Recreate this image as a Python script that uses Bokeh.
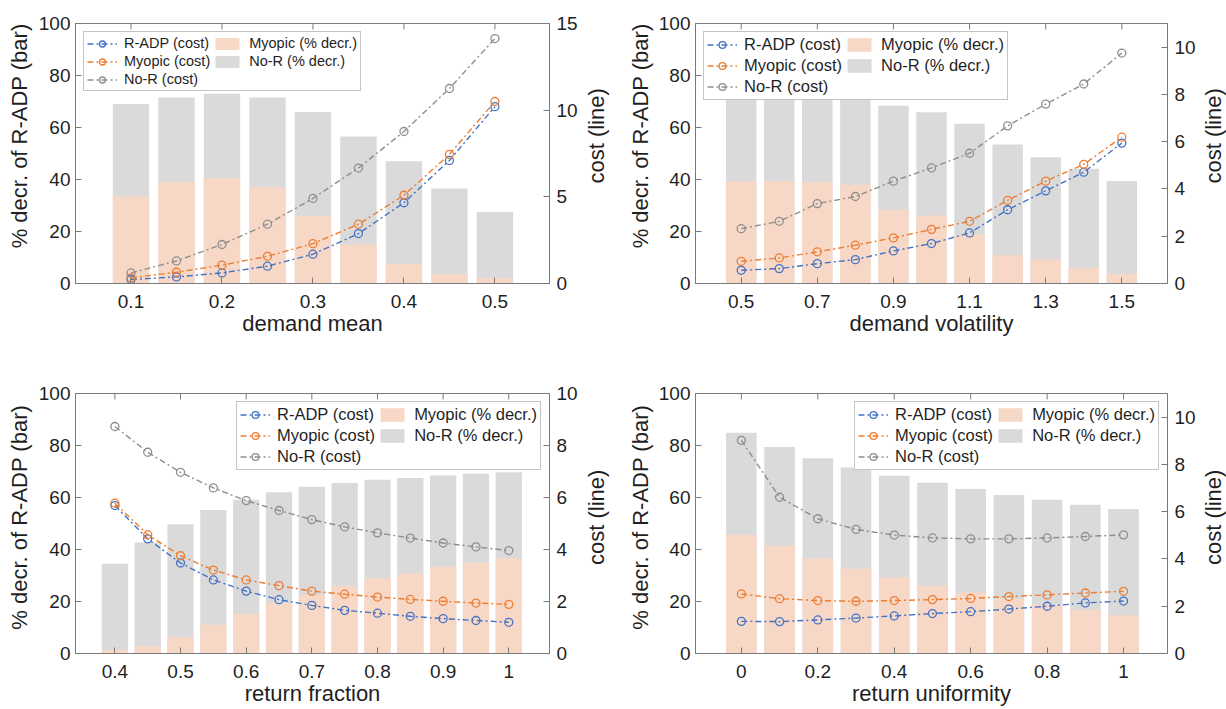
import math
from bokeh.plotting import figure
from bokeh.models import Range1d, LinearAxis, FixedTicker, Legend, LegendItem
from bokeh.core.properties import value
from bokeh.layouts import column, row
from bokeh.embed import file_html
from bokeh.resources import INLINE

# ---------------- data ----------------
# Panel A: demand mean
a_x = [0.1, 0.15, 0.2, 0.25, 0.3, 0.35, 0.4, 0.45, 0.5]
a_nor_bar = [69, 71.5, 73, 71.5, 66, 56.5, 47, 36.5, 27.5]
a_myo_bar = [33.5, 39, 40.5, 37, 26, 15, 7.5, 3.5, 2]
a_radp_cost = [0.23, 0.38, 0.61, 1.0, 1.69, 2.88, 4.66, 7.1, 10.2]
a_myo_cost = [0.33, 0.65, 1.06, 1.57, 2.3, 3.42, 5.09, 7.45, 10.5]
a_nor_cost = [0.61, 1.3, 2.25, 3.42, 4.91, 6.66, 8.77, 11.25, 14.13]
a_xticks = [0.1, 0.2, 0.3, 0.4, 0.5]
a_xlabels = ["0.1", "0.2", "0.3", "0.4", "0.5"]
a_cost_ticks = [0, 5, 10, 15]

# Panel B: demand volatility
b_x = [0.5, 0.6, 0.7, 0.8, 0.9, 1.0, 1.1, 1.2, 1.3, 1.4, 1.5]
b_nor_bar = [75.5, 75, 74.5, 74, 68.4, 65.9, 61.4, 53.5, 48.6, 44.1, 39.4]
b_myo_bar = [39.3, 39.4, 39, 38, 28.4, 26.2, 18.8, 10.9, 9.2, 6.1, 3.7]
b_radp_cost = [0.56, 0.63, 0.84, 1.01, 1.38, 1.69, 2.14, 3.12, 3.92, 4.71, 5.94]
b_myo_cost = [0.94, 1.08, 1.34, 1.62, 1.93, 2.29, 2.63, 3.52, 4.33, 5.04, 6.19]
b_nor_cost = [2.32, 2.63, 3.38, 3.68, 4.33, 4.89, 5.51, 6.67, 7.59, 8.44, 9.75]
b_xticks = [0.5, 0.7, 0.9, 1.1, 1.3, 1.5]
b_xlabels = ["0.5", "0.7", "0.9", "1.1", "1.3", "1.5"]
b_cost_ticks = [0, 2, 4, 6, 8, 10]

# Panel C: return fraction
c_x = [0.4, 0.45, 0.5, 0.55, 0.6, 0.65, 0.7, 0.75, 0.8, 0.85, 0.9, 0.95, 1.0]
c_nor_bar = [34.5, 42.7, 49.7, 55.2, 59.1, 62, 64.1, 65.6, 66.8, 67.5, 68.5, 69.1, 69.7]
c_myo_bar = [1.3, 2.7, 6.3, 11.1, 15.2, 19.4, 22.5, 26.1, 28.9, 30.9, 33.4, 34.9, 36.6]
c_radp_cost = [5.69, 4.41, 3.48, 2.83, 2.40, 2.07, 1.85, 1.66, 1.55, 1.43, 1.34, 1.27, 1.20]
c_myo_cost = [5.78, 4.57, 3.76, 3.21, 2.83, 2.61, 2.40, 2.28, 2.17, 2.08, 2.01, 1.94, 1.89]
c_nor_cost = [8.73, 7.74, 6.97, 6.37, 5.88, 5.50, 5.15, 4.87, 4.64, 4.44, 4.25, 4.10, 3.96]
c_xticks = [0.4, 0.5, 0.6, 0.7, 0.8, 0.9, 1.0]
c_xlabels = ["0.4", "0.5", "0.6", "0.7", "0.8", "0.9", "1"]
c_cost_ticks = [0, 2, 4, 6, 8, 10]

# Panel D: return uniformity
d_x = [0.0, 0.1, 0.2, 0.3, 0.4, 0.5, 0.6, 0.7, 0.8, 0.9, 1.0]
d_nor_bar = [84.9, 79.4, 75.1, 71.5, 68.4, 65.7, 63.3, 61, 59.1, 57.2, 55.6]
d_myo_bar = [45.7, 41.4, 36.6, 32.6, 29.2, 26.1, 23.5, 21, 18.8, 16.8, 14.7]
d_radp_cost = [1.36, 1.35, 1.42, 1.50, 1.59, 1.69, 1.77, 1.88, 2.0, 2.14, 2.22]
d_myo_cost = [2.52, 2.32, 2.24, 2.21, 2.24, 2.28, 2.33, 2.41, 2.48, 2.56, 2.63]
d_nor_cost = [9.02, 6.61, 5.70, 5.25, 5.01, 4.89, 4.85, 4.85, 4.89, 4.95, 5.02]
d_xticks = [0.0, 0.2, 0.4, 0.6, 0.8, 1.0]
d_xlabels = ["0", "0.2", "0.4", "0.6", "0.8", "1"]
d_cost_ticks = [0, 2, 4, 6, 8, 10]

pct_ticks = [0, 20, 40, 60, 80, 100]
left_title = "% decr. of R-ADP (bar)"
right_title = "cost (line)"

# ---------------- style ----------------
FONT = "Liberation Sans"
C_BLUE = "#4472C4"
C_ORANGE = "#ED7D31"
C_GRAY = "#8E8E8E"
C_PEACH = "#F7D8C7"
C_BARGRAY = "#DADADA"
AX_COL = "#7a7a7a"
TXT_COL = "#1f1f1f"


def style_axis(ax, standoff, label_standoff=0):
    ax.axis_line_color = AX_COL
    ax.major_tick_line_color = AX_COL
    ax.major_tick_in = 6
    ax.major_tick_out = 0
    ax.minor_tick_line_color = None
    ax.major_label_text_font = FONT
    ax.major_label_text_font_size = "19px"
    ax.major_label_text_color = TXT_COL
    ax.major_label_standoff = standoff
    ax.axis_label_text_font = FONT
    ax.axis_label_text_font_size = "22px"
    ax.axis_label_text_font_style = "normal"
    ax.axis_label_text_color = TXT_COL
    ax.axis_label_standoff = label_standoff


def make_panel(x, nor_bar, myo_bar, radp, myo, nor, xlabel, xticks, xlabels,
               xr, bar_w, cost_max, cost_ticks, legend_loc, legend_font,
               width, height, bl, br, bt, bb):
    p = figure(width=width, height=height, output_backend="svg",
               toolbar_location=None, x_range=Range1d(*xr),
               y_range=Range1d(0, 100),
               min_border_left=bl, min_border_right=br,
               min_border_top=bt, min_border_bottom=bb)
    p.xgrid.grid_line_color = None
    p.ygrid.grid_line_color = None
    p.outline_line_color = AX_COL
    p.outline_line_width = 1
    p.background_fill_color = "white"
    p.border_fill_color = "white"

    p.extra_y_ranges = {"cost": Range1d(0, cost_max)}

    b_nor = p.vbar(x=x, top=nor_bar, width=bar_w, bottom=0,
                   fill_color=C_BARGRAY, line_color=None)
    b_myo = p.vbar(x=x, top=myo_bar, width=bar_w, bottom=0,
                   fill_color=C_PEACH, line_color=None)

    # inward tick marks along the top edge of the box
    p.segment(x0=xticks, y0=[100] * len(xticks), x1=xticks,
              y1=[97.7] * len(xticks), line_color=AX_COL, line_width=1)

    items_line = []
    for vals, col, lab in [(radp, C_BLUE, "R-ADP (cost)"),
                           (myo, C_ORANGE, "Myopic (cost)"),
                           (nor, C_GRAY, "No-R (cost)")]:
        lr = p.line(x, vals, y_range_name="cost", line_color=col,
                    line_width=1.4, line_dash="6 3 2 3")
        sr = p.scatter(x, vals, y_range_name="cost", marker="circle", size=8,
                       fill_color=None, line_color=col, line_width=1.3)
        items_line.append(LegendItem(label=lab, renderers=[lr, sr]))

    # axes
    p.xaxis.ticker = FixedTicker(ticks=xticks)
    p.xaxis.major_label_overrides = {t: l for t, l in zip(xticks, xlabels)}
    p.xaxis.axis_label = xlabel
    for ax in p.xaxis:
        style_axis(ax, 11, 0)
    p.yaxis.ticker = FixedTicker(ticks=pct_ticks)
    for ax in p.yaxis:
        style_axis(ax, 5)

    right = LinearAxis(y_range_name="cost", ticker=FixedTicker(ticks=cost_ticks))
    style_axis(right, 7)
    p.add_layout(right, "right")

    items = items_line + [LegendItem(label="Myopic (% decr.)", renderers=[b_myo]),
                          LegendItem(label="No-R (% decr.)", renderers=[b_nor])]
    lg = Legend(items=items, location=legend_loc, orientation="vertical",
                nrows=3, ncols=2)
    lg.label_text_font = FONT
    lg.label_text_font_size = legend_font
    lg.label_text_color = TXT_COL
    lg.border_line_color = "#8a8a8a"
    lg.border_line_width = 1
    lg.background_fill_color = "white"
    lg.background_fill_alpha = 1
    lg.glyph_width = 30
    small = legend_font == "14.5px"
    lg.glyph_height = 15 if small else 17
    lg.label_height = 15 if small else 17
    lg.label_standoff = 7
    lg.spacing = 2
    lg.padding = 3
    lg.margin = 8
    lg.item_background_fill_alpha = 0
    p.add_layout(lg)
    return p


def label_strip(width, height, xs, ys, texts):
    """A narrow, axis-less strip that carries rotated y-axis titles."""
    s = figure(width=width, height=height, output_backend="svg",
               toolbar_location=None, x_range=Range1d(0, width),
               y_range=Range1d(height, 0), min_border=0,
               x_axis_location=None, y_axis_location=None)
    s.xgrid.grid_line_color = None
    s.ygrid.grid_line_color = None
    s.outline_line_color = None
    s.background_fill_color = "white"
    s.border_fill_color = "white"
    s.text(x=xs, y=ys, text=texts, angle=math.pi / 2,
           text_align="center", text_baseline="middle",
           text_font=value(FONT), text_font_size=value("22px"),
           text_color=TXT_COL)
    return s


H1, H2 = 354, 355
# row 1
p1 = make_panel(a_x, a_nor_bar, a_myo_bar, a_radp_cost, a_myo_cost, a_nor_cost,
                "demand mean", a_xticks, a_xlabels, (0.039, 0.56), 0.04, 15,
                a_cost_ticks, "top_left", "14.5px", 545, H1, 39, 31, 23, 71)
p2 = make_panel(b_x, b_nor_bar, b_myo_bar, b_radp_cost, b_myo_cost, b_nor_cost,
                "demand volatility", b_xticks, b_xlabels, (0.38, 1.62), 0.08, 11,
                b_cost_ticks, "top_left", "16.5px", 543, H1, 40, 28, 23, 71)
s1a = label_strip(35, H1, [18.5], [153], [left_title])
s1b = label_strip(75, H1, [16, 59.5], [153, 153], [right_title, left_title])
s1c = label_strip(28, H1, [15], [153], [right_title])

# row 2
p3 = make_panel(c_x, c_nor_bar, c_myo_bar, c_radp_cost, c_myo_cost, c_nor_cost,
                "return fraction", c_xticks, c_xlabels, (0.34, 1.062), 0.04, 10,
                c_cost_ticks, "top_right", "16.5px", 545, H2, 39, 31, 39, 56)
p4 = make_panel(d_x, d_nor_bar, d_myo_bar, d_radp_cost, d_myo_cost, d_nor_cost,
                "return uniformity", d_xticks, d_xlabels, (-0.12, 1.115), 0.08, 11,
                d_cost_ticks, "top_right", "16.5px", 543, H2, 40, 28, 39, 56)
s2a = label_strip(35, H2, [18.5], [169], [left_title])
s2b = label_strip(75, H2, [16, 59.5], [169, 169], [right_title, left_title])
s2c = label_strip(28, H2, [15], [169], [right_title])

layout = column(row(s1a, p1, s1b, p2, s1c), row(s2a, p3, s2b, p4, s2c))
open("out.html", "w").write(file_html(layout, INLINE))
